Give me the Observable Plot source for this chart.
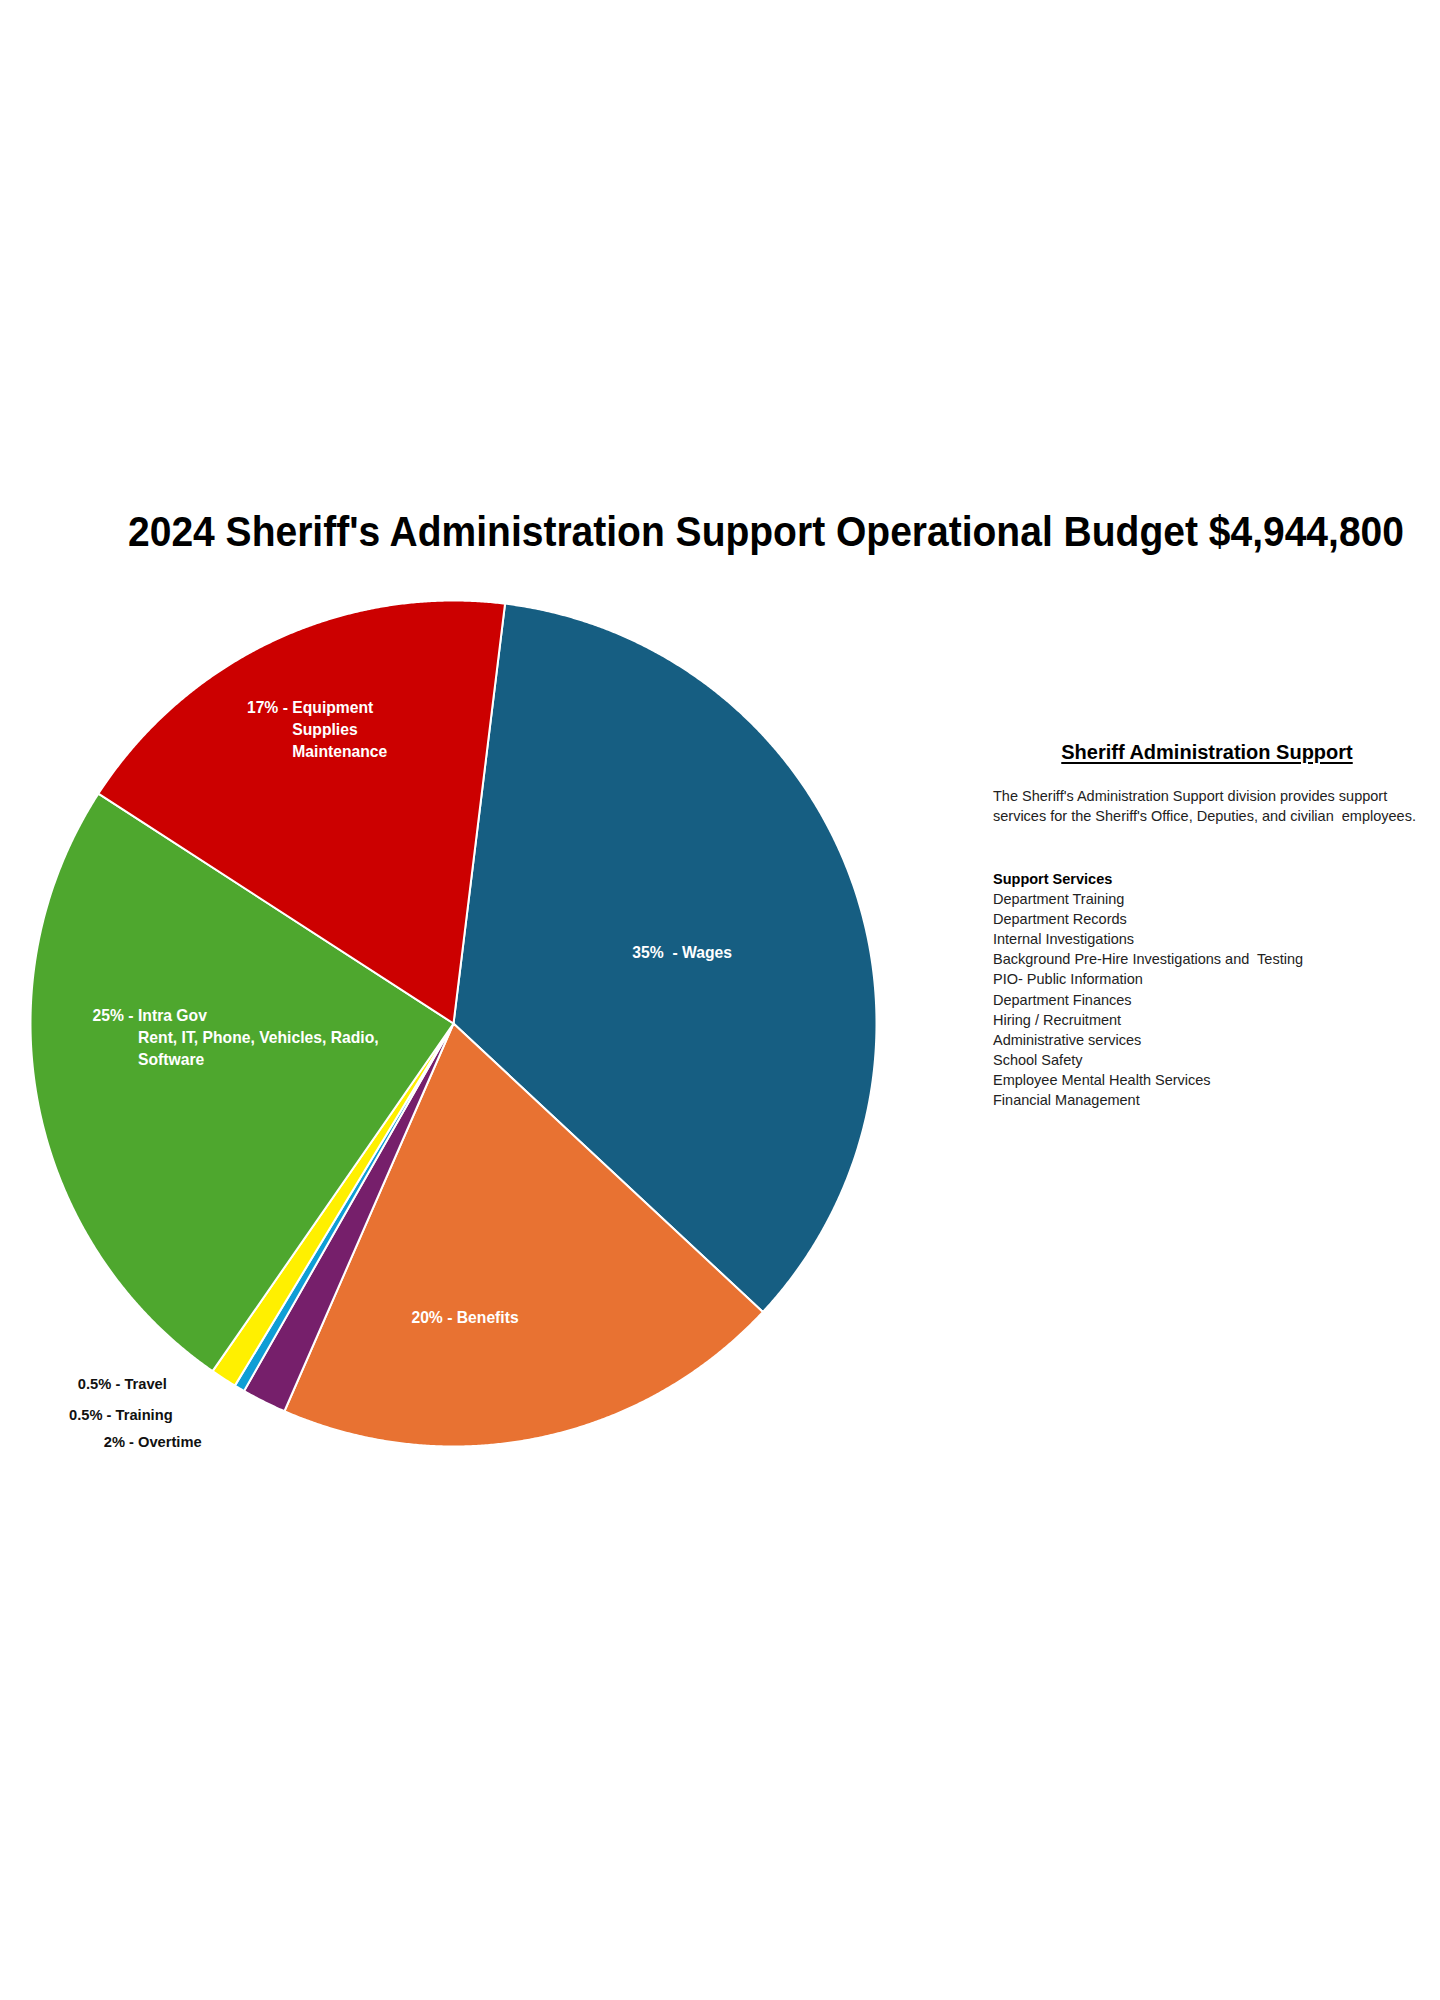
<!DOCTYPE html>
<html>
<head>
<meta charset="utf-8">
<script src="https://cdn.jsdelivr.net/npm/d3@7"></script>
<script src="https://cdn.jsdelivr.net/npm/@observablehq/plot@0.6"></script>
<style>
  body { margin: 0; background: #fff; }
  #page { position: relative; width: 1440px; height: 2000px; overflow: hidden;
          font-family: "Liberation Sans", Arial, sans-serif; color: #000; background: #fff; }
  .abs { position: absolute; white-space: nowrap; }
  #title { left: 128px; top: 511px; font-size: 42px; line-height: 42px; font-weight: bold; transform-origin: 0 0; }
  #chart { left: 0; top: 580px; }
  #panelHead { left: 1207px; top: 740px; font-size: 20px; line-height: 24px; font-weight: bold;
               text-decoration: underline; text-decoration-thickness: 1.5px; text-underline-offset: 3px;
               transform: translateX(-50%); }
  #panelText { left: 993px; top: 787px; font-size: 14.5px; line-height: 19.5px; color: #222; }
  #services { left: 993px; top: 869px; font-size: 14.5px; line-height: 20.1px; color: #222; }
  #services b { color: #000; }
</style>
</head>
<body>
<div id="page">
  <div id="title" class="abs"></div>
  <div id="chart" class="abs"></div>
  <div id="panelHead" class="abs"></div>
  <div id="panelText" class="abs"></div>
  <div id="services" class="abs"></div>
</div>
<script>
// ---- data ----
const titleText = "2024 Sheriff's Administration Support Operational Budget $4,944,800";
const categories = ["Wages", "Benefits", "Overtime", "Training", "Travel", "Intra Gov", "Equipment"];
const shares = [35.0, 19.6, 1.7, 0.4, 1.0, 24.5, 17.8];
const sliceLabels = [
  "35%\u00a0 - Wages",
  "20% - Benefits",
  "2% - Overtime",
  "0.5% - Training",
  "0.5% - Travel",
  "25% - Intra Gov\nRent, IT, Phone, Vehicles, Radio,\nSoftware",
  "17% - Equipment\nSupplies\nMaintenance"
];
const sliceColors = ["#165E82", "#E87232", "#761F6B", "#0F9ED5", "#FFF000", "#4EA72E", "#CC0000"];
const panelTitle = "Sheriff Administration Support";
const panelLines = [
  "The Sheriff's Administration Support division provides support",
  "services for the Sheriff's Office, Deputies, and civilian\u00a0 employees."
];
const servicesHeading = "Support Services";
const services = [
  "Department Training",
  "Department Records",
  "Internal Investigations",
  "Background Pre-Hire Investigations and\u00a0 Testing",
  "PIO- Public Information",
  "Department Finances",
  "Hiring / Recruitment",
  "Administrative services",
  "School Safety",
  "Employee Mental Health Services",
  "Financial Management"
];

// ---- label placement (style): angular nudge from slice mid-angle (deg) and radius fraction ----
const labelPlacement = {
  "Wages":     {turn: 3.4,  r: 0.564},
  "Benefits":  {turn: 9.5,  r: 0.703},
  "Overtime":  {turn: 8.8,  r: 1.227},
  "Training":  {turn: 9.7,  r: 1.221},
  "Travel":    {turn: 9.3,  r: 1.165},
  "Intra Gov": {turn: 12.3, r: 0.746},
  "Equipment": {turn: -2.15, r: 0.834}
};
const startAngle = 7.0; // degrees clockwise from 12 o'clock

// ---- build pie geometry from shares ----
let acc = startAngle;
const slices = categories.map((name, i) => {
  const a0 = acc, a1 = acc + shares[i] * 3.6;
  acc = a1;
  return {name, a0, a1, mid: (a0 + a1) / 2, label: sliceLabels[i]};
});
const rad = (d) => d * Math.PI / 180;
const pts = slices.flatMap((s) => {
  const n = Math.max(2, Math.ceil((s.a1 - s.a0) / 0.25));
  const arr = [{name: s.name, x: 0, y: 0}];
  for (let k = 0; k <= n; k++) {
    const a = rad(s.a0 + (s.a1 - s.a0) * k / n);
    arr.push({name: s.name, x: Math.sin(a), y: Math.cos(a)});
  }
  arr.push({name: s.name, x: 0, y: 0});
  return arr;
});

const labelData = slices.map((s) => {
  const p = labelPlacement[s.name];
  const a = rad(s.mid + p.turn);
  const multi = s.label.includes("\n");
  const cut = s.label.indexOf(" - ");
  return {
    name: s.name,
    x: p.r * Math.sin(a),
    y: p.r * Math.cos(a),
    outside: p.r > 1,
    multi,
    text: s.label,
    prefix: multi ? s.label.slice(0, cut + 2) : "",
    body: multi ? s.label.slice(cut + 3) : ""
  };
});

const font = "Liberation Sans, Arial, sans-serif";
const inFs = 15.7, outFs = 14.7, lh = 1.4;
const chart = Plot.plot({
  width: 900,
  height: 900,
  x: {domain: [-1, 1], range: [30, 876], axis: null},
  y: {domain: [-1, 1], range: [866, 20], axis: null},
  color: {domain: categories, range: sliceColors},
  style: {background: "transparent", overflow: "visible"},
  marks: [
    Plot.line(pts, {x: "x", y: "y", z: "name", fill: "name", stroke: "white", strokeWidth: 2, strokeLinejoin: "round"}),
    Plot.text(labelData.filter(d => !d.multi && !d.outside), {
      x: "x", y: "y", text: "text", textAnchor: "middle", lineAnchor: "top", dy: -8.5,
      fontSize: inFs, fontWeight: "bold", fontFamily: font, fill: "white"
    }),
    Plot.text(labelData.filter(d => !d.multi && d.outside), {
      x: "x", y: "y", text: "text", textAnchor: "middle", lineAnchor: "top", dy: -9.5,
      fontSize: outFs, fontWeight: "bold", fontFamily: font, fill: "#111"
    }),
    Plot.text(labelData.filter(d => d.multi), {
      x: "x", y: "y", text: "prefix", textAnchor: "end", lineAnchor: "top", dy: -7.5, dx: -4.4,
      fontSize: inFs, fontWeight: "bold", fontFamily: font, fill: "white"
    }),
    Plot.text(labelData.filter(d => d.multi), {
      x: "x", y: "y", text: "body", textAnchor: "start", lineAnchor: "top",
      dy: -7.5 - 0.71 * (lh - 1) * inFs, lineHeight: lh,
      fontSize: inFs, fontWeight: "bold", fontFamily: font, fill: "white"
    })
  ]
});
document.getElementById("chart").appendChild(chart);

// ---- text blocks ----
const titleEl = document.getElementById("title");
titleEl.textContent = titleText;
const w = titleEl.getBoundingClientRect().width;
titleEl.style.transform = `scaleX(${1276 / w})`;

document.getElementById("panelHead").textContent = panelTitle;
const pt = document.getElementById("panelText");
panelLines.forEach((l, i) => { if (i) pt.appendChild(document.createElement("br")); pt.appendChild(document.createTextNode(l)); });
const sv = document.getElementById("services");
const b = document.createElement("b"); b.textContent = servicesHeading; sv.appendChild(b);
services.forEach((l) => { sv.appendChild(document.createElement("br")); sv.appendChild(document.createTextNode(l)); });
</script>
</body>
</html>
